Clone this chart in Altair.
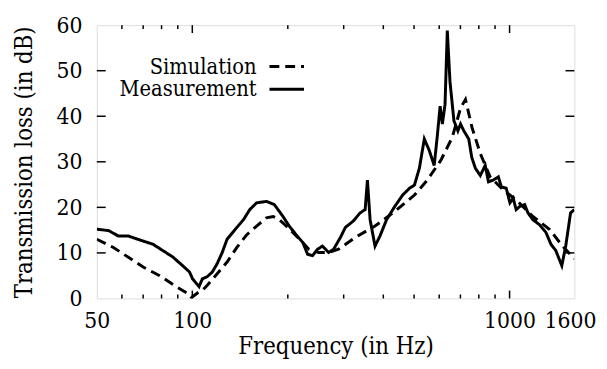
import altair as alt
import pandas as pd

# ---- data ----
meas_f = [50, 54.5, 58.5, 62.9, 70.0, 75.2, 80.8, 86.8, 93.2, 98, 100.2, 105, 107.6, 111.5, 115.6,
          119.7, 124.1, 128.7, 138.2, 145, 151.7, 159.5, 171.3, 181.4, 193.1, 202, 212.4, 222.9,
          230.9, 239.3, 248.1, 257.1, 269, 278.8, 293, 303.7, 321.7, 338.2, 350.6, 356.4, 363.4,
          376.6, 390.4, 409.5, 434.7, 460.2, 483.8, 501.4, 519.7, 538.6, 558.3, 578.6, 591.3, 604,
          614, 626, 636.4, 648.9, 667.8, 687.3, 700.6, 717.5, 743.7, 759.8, 780, 808.6, 838, 858,
          889, 921.8, 941.8, 976, 1002.6, 1026.6, 1048.9, 1076.6, 1115.9, 1142.5, 1184, 1242, 1302,
          1350, 1399, 1461, 1503, 1557, 1600]
meas_db = [15.2, 14.9, 13.7, 13.7, 12.6, 11.9, 10.5, 9.1, 7.2, 5.8, 4.3, 2.6, 4.3, 4.8, 5.8,
           7.6, 10.0, 13.0, 15.6, 17.3, 19.5, 21.0, 21.3, 20.6, 18.0, 15.9, 14.0, 12.3,
           9.7, 9.4, 10.8, 11.5, 10.1, 10.8, 13.4, 15.6, 17.0, 18.8, 19.5, 26.0, 17.3,
           11.5, 13.7, 17.3, 20.2, 22.7, 24.2, 24.9, 28.6, 35.0, 32.5, 29.2, 35.4, 42.2,
           38.3, 42.6, 58.8, 47.6, 39.0, 36.8, 38.3, 36.8, 35.0, 31.0, 28.6, 27.0, 29.2, 25.6,
           26.0, 26.7, 24.5, 24.2, 21.0, 22.0, 19.5, 20.2, 20.6, 18.8, 17.3, 16.2, 14.5,
           11.9, 10.5, 7.2, 11.5, 18.8, 19.5]

sim_f = [50, 56.4, 70, 78.9, 88.9, 97.8, 99.4, 103.8, 107.6, 111.5, 118.3, 128.7, 138.2, 148.5,
         159.5, 171.3, 179.8, 188, 197.7, 207.4, 222.9, 233, 250.4, 269, 288.9, 326.4, 376.6,
         434.7, 501.4, 550.5, 607, 660, 700.6, 726, 761.6, 808.6, 868.4, 955, 1051, 1184, 1335,
         1468, 1600]
sim_db = [13.0, 11.2, 6.9, 5.0, 2.6, 0.9, 0.2, 1.2, 1.8, 2.9, 5.0, 8.0, 11.2, 14.0,
          15.9, 17.7, 18.0, 17.3, 15.9, 14.5, 12.3, 10.8, 10.1, 10.1, 10.8, 13.4, 15.9,
          19.1, 22.7, 26.0, 30.3, 35.4, 41.8, 43.7, 37.5, 31.8, 26.7, 23.8, 21.6, 18.0, 15.2,
          11.5, 8.7]

x_labels = [50, 100, 1000, 1600]
x_major = [100, 1000]
x_minor = [60, 70, 80, 90, 200, 300, 400, 500, 600, 700, 800, 900]
y_ticks = [10, 20, 30, 40, 50]

series_names = ["Simulation", "Measurement"]

W, H = 484, 277
FONT = "DejaVu Serif Condensed"
FS_TICK = 23
FS_TITLE = 24
FS_LEG = 22

df = pd.concat([
    pd.DataFrame({"f": sim_f, "db": sim_db, "series": "Simulation"}),
    pd.DataFrame({"f": meas_f, "db": meas_db, "series": "Measurement"}),
])

xscale = alt.Scale(type="log", domain=[50, 1600], nice=False)
yscale = alt.Scale(domain=[0, 60], nice=False)

lines = alt.Chart(df).mark_line(color="black", strokeWidth=3, clip=True).encode(
    x=alt.X("f:Q", scale=xscale,
            axis=alt.Axis(values=x_labels, format="d", ticks=False, domain=False, grid=False,
                          labelFont=FONT, labelFontSize=FS_TICK, labelColor="black",
                          labelPadding=11, labelFlush=False,
                          labelAlign={"condition": {"test": "datum.value == 1600", "value": "right"},
                                      "value": "center"},
                          labelOffset={"condition": {"test": "datum.value == 1600", "value": 22},
                                       "value": 0},
                          title="Frequency (in Hz)", titleFont=FONT, titleFontSize=FS_TITLE,
                          titleFontWeight="normal", titleColor="black", titlePadding=3)),
    y=alt.Y("db:Q", scale=yscale,
            axis=alt.Axis(values=[0, 10, 20, 30, 40, 50, 60], format="d", ticks=False, domain=False, grid=False,
                          labelFont=FONT, labelFontSize=FS_TICK, labelColor="black",
                          labelPadding=15, labelFlush=False,
                          title="Transmission loss (in dB)", titleFont=FONT, titleFontSize=FS_TITLE,
                          titleFontWeight="normal", titleColor="black", titlePadding=20)),
    strokeDash=alt.StrokeDash("series:N", scale=alt.Scale(domain=series_names,
                                                          range=[[10, 6], [1, 0]]), legend=None),
    detail="series:N",
)

def xticks(vals, length):
    d = pd.DataFrame({"f": vals})
    bot = alt.Chart(d).mark_rule(color="black", strokeWidth=1.5).encode(
        x=alt.X("f:Q", scale=xscale), y=alt.value(H), y2=alt.value(H - length))
    top = alt.Chart(d).mark_rule(color="black", strokeWidth=1.5).encode(
        x=alt.X("f:Q", scale=xscale), y=alt.value(0), y2=alt.value(length))
    return [bot, top]

yd = pd.DataFrame({"db": y_ticks})
yl = alt.Chart(yd).mark_rule(color="black", strokeWidth=1.5).encode(
    y=alt.Y("db:Q", scale=yscale), x=alt.value(0), x2=alt.value(9))
yr = alt.Chart(yd).mark_rule(color="black", strokeWidth=1.5).encode(
    y=alt.Y("db:Q", scale=yscale), x=alt.value(W), x2=alt.value(W - 9))

# legend (gnuplot style: label then sample)
leg = pd.DataFrame({"series": series_names, "row": [0, 1]})
leg_y = {"Simulation": 42, "Measurement": 65}
legend_layers = []
for name, dash in zip(series_names, [[10, 6], [1, 0]]):
    one = leg[leg.series == name]
    legend_layers.append(alt.Chart(one).mark_text(align="right", baseline="middle", font=FONT,
                                                  fontSize=FS_LEG, color="black").encode(
        text="series:N", x=alt.value(162), y=alt.value(leg_y[name])))
    legend_layers.append(alt.Chart(one).mark_rule(color="black", strokeWidth=3, strokeDash=dash).encode(
        x=alt.value(175), x2=alt.value(210), y=alt.value(leg_y[name])))

chart = alt.layer(
    lines, *xticks(x_major, 8), *xticks(x_minor, 4), yl, yr, *legend_layers
).properties(
    width=W, height=H,
    autosize=alt.AutoSizeParams(type="none"),
    padding={"left": 90, "top": 15, "right": 25, "bottom": 61},
).configure_view(stroke="black", strokeWidth=2).configure(background="white")

chart.save("out.html", embed_options={"renderer": "svg", "actions": False})
